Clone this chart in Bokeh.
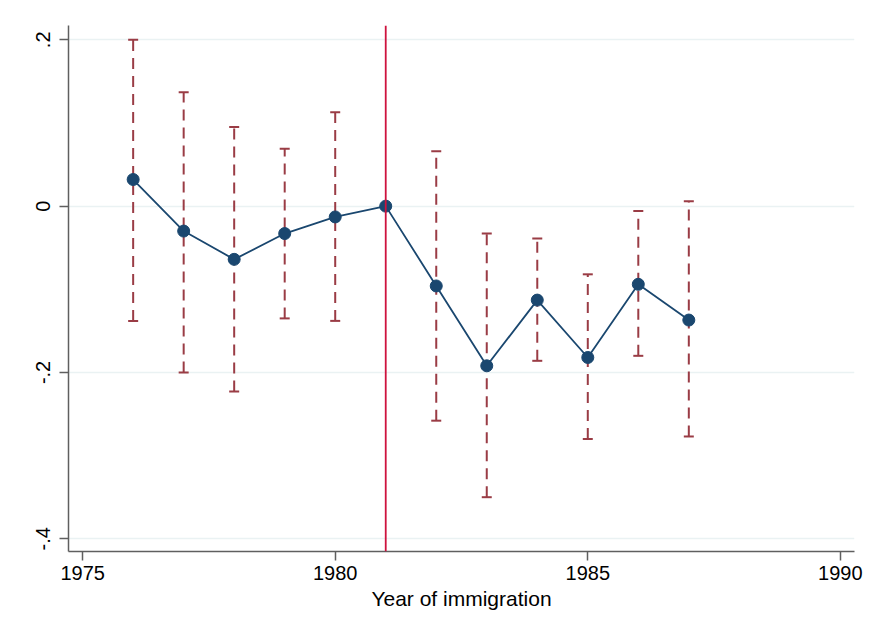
from bokeh.plotting import figure
from bokeh.models import (Range1d, FixedTicker, CustomJSTickFormatter, Span,
                          Whisker, TeeHead, ColumnDataSource)
from bokeh.embed import file_html
from bokeh.resources import INLINE

# Data
years = [1976, 1977, 1978, 1979, 1980, 1981, 1982, 1983, 1984, 1985, 1986, 1987]
coef = [0.032, -0.030, -0.064, -0.033, -0.013, 0.0, -0.096, -0.192, -0.113, -0.182, -0.094, -0.137]
ci_upper = [0.200, 0.137, 0.095, 0.069, 0.113, None, 0.066, -0.033, -0.039, -0.082, -0.006, 0.006]
ci_lower = [-0.138, -0.200, -0.223, -0.135, -0.138, None, -0.258, -0.350, -0.186, -0.280, -0.180, -0.277]
x_ticks = [1975, 1980, 1985, 1990]
y_ticks = [-0.4, -0.2, 0.0, 0.2]
event_year = 1981
x_label = "Year of immigration"

NAVY = "#1a476f"
MAROON = "#9a3c45"
CRANBERRY = "#ce123e"
AXIS = "#5f5f5f"
GRID = "#eaf2f3"
FONT = "Liberation Sans"

p = figure(width=870, height=630, output_backend="svg", toolbar_location=None,
           x_range=Range1d(1974.72, 1990.28), y_range=Range1d(-0.4153, 0.2172),
           min_border_left=68, min_border_right=16, min_border_top=25,
           min_border_bottom=79)
p.outline_line_color = None
p.background_fill_color = "white"
p.border_fill_color = "white"

# grid
p.xgrid.grid_line_color = None
p.ygrid.grid_line_color = GRID
p.ygrid.grid_line_width = 1.5
p.ygrid.ticker = FixedTicker(ticks=y_ticks)

# axes
for ax in (p.xaxis[0], p.yaxis[0]):
    ax.axis_line_color = AXIS
    ax.axis_line_width = 1.5
    ax.major_tick_line_color = AXIS
    ax.major_tick_line_width = 1.5
    ax.major_tick_out = 9
    ax.major_tick_in = 0
    ax.minor_tick_line_color = None
    ax.major_label_text_font = FONT
    ax.major_label_text_font_size = "20px"
    ax.major_label_text_color = "black"

p.xaxis.ticker = FixedTicker(ticks=x_ticks)
p.xaxis.major_label_standoff = 5
p.xaxis.axis_label = x_label
p.xaxis.axis_label_text_font = FONT
p.xaxis.axis_label_text_font_size = "21px"
p.xaxis.axis_label_text_font_style = "normal"
p.xaxis.axis_label_text_color = "black"
p.xaxis.axis_label_standoff = 4

p.yaxis.ticker = FixedTicker(ticks=y_ticks)
p.yaxis.major_label_orientation = "vertical"
p.yaxis.major_label_standoff = 9
p.yaxis.formatter = CustomJSTickFormatter(code="""
if (Math.abs(tick) < 1e-9) { return "0"; }
var s = tick.toFixed(1);
return s.replace("0.", ".");
""")

# reference line
p.add_layout(Span(location=event_year, dimension="height", line_color=CRANBERRY,
                  line_width=1.8))

# confidence intervals
ci_x = [x for x, u in zip(years, ci_upper) if u is not None]
ci_u = [u for u in ci_upper if u is not None]
ci_l = [l for l in ci_lower if l is not None]
ci_src = ColumnDataSource(dict(x=ci_x, upper=ci_u, lower=ci_l))
w = Whisker(source=ci_src, base="x", upper="upper", lower="lower",
            line_color=MAROON, line_width=2, line_dash="11 7",
            upper_head=TeeHead(size=10, line_color=MAROON, line_width=2),
            lower_head=TeeHead(size=10, line_color=MAROON, line_width=2))
p.add_layout(w)

# coefficients
src = ColumnDataSource(dict(x=years, y=coef))
p.line("x", "y", source=src, line_color=NAVY, line_width=1.8)
p.scatter("x", "y", source=src, size=12, fill_color=NAVY, line_color=NAVY)

open("out.html", "w").write(file_html(p, INLINE))
